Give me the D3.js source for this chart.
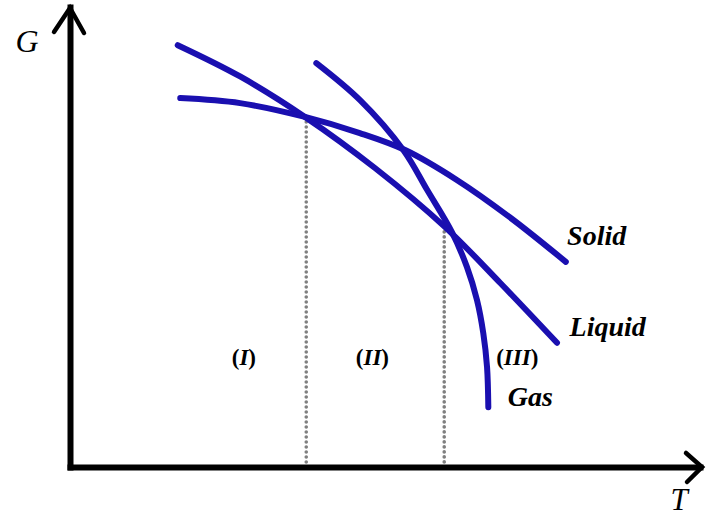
<!DOCTYPE html>
<html>
<head>
<meta charset="utf-8">
<script src="https://cdn.jsdelivr.net/npm/d3@7/dist/d3.min.js"></script>
<style>
  html, body { margin: 0; padding: 0; background: #fff; }
  svg { display: block; }
  .lbl { font-family: "Liberation Serif", "DejaVu Serif", serif; font-style: italic; font-weight: bold; fill: #000; }
</style>
</head>
<body>
<svg id="chart" width="707" height="517"></svg>
<script>
// Gibbs free energy G against temperature T for the three phases (schematic units)
const solidT  = [17.5, 27.0, 37.3, 46.0, 53.2, 61.4, 69.8, 78.7];
const solidG  = [80.2, 79.1, 76.1, 72.6, 68.9, 62.4, 54.3, 44.6];
const liquidT = [17.1, 27.0, 37.3, 48.4, 59.5, 68.3, 77.3];
const liquidG = [91.7, 84.9, 76.1, 65.0, 52.2, 40.0, 27.0];
const gasT    = [39.1, 46.0, 52.9, 56.7, 60.6, 63.0, 64.6, 65.6, 66.2, 66.4];
const gasG    = [87.8, 79.8, 68.9, 60.2, 51.1, 43.5, 36.3, 29.1, 21.7, 13.0];

// phase transition temperatures (solid→liquid, liquid→gas) and the G where curves cross
const transitionT = [37.5, 59.4];
const transitionG = [76.1, 52.2];

// region labels and the point each is centred on
const regionNames = ["I", "II", "III"];
const regionT     = [27.6, 48.0, 71.0];
const regionG     = [22.2, 22.2, 22.2];

const phaseNames  = ["Solid", "Liquid", "Gas"];
const phaseLabelT = [78.9, 79.3, 69.5];
const phaseLabelG = [48.3, 28.5, 13.3];

const svg = d3.select("#chart");
const x = d3.scaleLinear().domain([0, 100]).range([70, 700]);
const y = d3.scaleLinear().domain([0, 100]).range([467, 7]);

const blue = "#1a0fb0";

// axes: plain thick lines ending in open arrowheads, no ticks
const xAxis = svg.append("g").attr("transform", `translate(0,${y(0)})`)
  .call(d3.axisBottom(x).ticks(0).tickSizeOuter(0));
const yAxis = svg.append("g").attr("transform", `translate(${x(0)},0)`)
  .call(d3.axisLeft(y).ticks(0).tickSizeOuter(0));
[xAxis, yAxis].forEach(g => g.select(".domain")
  .attr("stroke", "#000").attr("stroke-width", 6).attr("stroke-linecap", "square"));

const arrow = svg.append("g").attr("fill", "none").attr("stroke", "#000")
  .attr("stroke-width", 4.5).attr("stroke-linecap", "round").attr("stroke-linejoin", "miter");
const yTop = y(100), xEnd = x(100);
arrow.append("path").attr("d", `M${x(0) - 16},${yTop + 25} L${x(0)},${yTop + 1} L${x(0) + 14},${yTop + 26}`);
arrow.append("path").attr("d", `M${xEnd - 14},${y(0) - 14} L${xEnd + 2},${y(0)} L${xEnd - 13},${y(0) + 15}`);

// dotted drop lines at the transition temperatures
svg.append("g").selectAll("line").data(transitionT).join("line")
  .attr("x1", d => x(d)).attr("x2", d => x(d))
  .attr("y1", (d, i) => y(transitionG[i])).attr("y2", y(0) - 3)
  .attr("stroke", "#808080").attr("stroke-width", 3.6)
  .attr("stroke-linecap", "round").attr("stroke-dasharray", "0,5");

// phase curves
const line = d3.line().x(d => x(d[0])).y(d => y(d[1])).curve(d3.curveCatmullRom.alpha(0.5));
const curves = [d3.zip(solidT, solidG), d3.zip(liquidT, liquidG), d3.zip(gasT, gasG)];
svg.append("g").selectAll("path").data(curves).join("path")
  .attr("d", line).attr("fill", "none").attr("stroke", blue)
  .attr("stroke-width", 6).attr("stroke-linecap", "round");

// axis names
svg.append("text").attr("x", 27).attr("y", 52).attr("text-anchor", "middle")
  .style("font-family", "'Liberation Serif', serif").style("font-style", "italic")
  .style("font-size", "32px").text("G");
svg.append("text").attr("x", 679).attr("y", 510).attr("text-anchor", "middle")
  .style("font-family", "'Liberation Serif', serif").style("font-style", "italic")
  .style("font-size", "31px").text("T");

// region labels: upright parentheses around italic numerals
const reg = svg.append("g").selectAll("text").data(regionNames).join("text")
  .attr("class", "lbl").attr("text-anchor", "middle")
  .attr("x", (d, i) => x(regionT[i])).attr("y", (d, i) => y(regionG[i]))
  .style("font-size", "23px");
reg.append("tspan").style("font-style", "normal").text("(");
reg.append("tspan").text(d => d);
reg.append("tspan").style("font-style", "normal").text(")");

// phase names next to each curve end
svg.append("g").selectAll("text").data(phaseNames).join("text")
  .attr("class", "lbl")
  .attr("x", (d, i) => x(phaseLabelT[i])).attr("y", (d, i) => y(phaseLabelG[i]))
  .style("font-size", "28px").text(d => d);
</script>
</body>
</html>
